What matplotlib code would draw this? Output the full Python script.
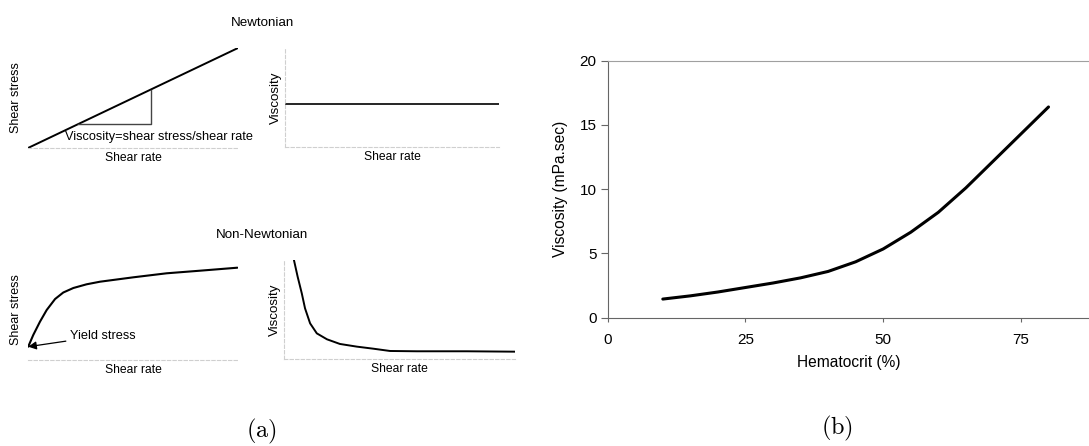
import numpy as np
import matplotlib
matplotlib.use("Agg")
import matplotlib.pyplot as plt

plt.rcParams['font.family'] = ['Liberation Sans', 'DejaVu Sans']
plt.rcParams['mathtext.fontset'] = 'cm'

# ---- data -------------------------------------------------------------
# Newtonian: shear stress proportional to shear rate
newt_rate = [0, 10]
newt_stress = [0, 10]
slope_span = [2.4, 5.85]          # run of the slope triangle (shear rate)
newt_visc = [4.3, 4.3]            # constant viscosity

# Non-Newtonian (yield stress, shear thinning)
nn_rate = [0.01, 0.25, 0.57, 0.89, 1.29, 1.68, 2.16, 2.79, 3.43, 5.02,
           6.6, 8.19, 9.97]
nn_stress = [1.33, 2.5, 3.83, 5.0, 6.1, 6.75, 7.2, 7.57, 7.83, 8.27,
             8.67, 8.93, 9.23]
nn_visc_rate = [0.43, 0.59, 0.77, 0.91, 1.13, 1.42, 1.86, 2.42, 3.15,
                3.87, 4.59, 5.75, 7.91, 10.0]
nn_visc = [10.0, 8.32, 6.63, 5.12, 3.6, 2.59, 1.99, 1.52, 1.25,
           1.04, 0.81, 0.78, 0.78, 0.74]

# Blood viscosity vs hematocrit
hematocrit = [10, 15, 20, 25, 30, 35, 40, 45, 50, 55, 60, 65, 70, 75, 80]
blood_visc = [1.45, 1.7, 2.0, 2.35, 2.7, 3.1, 3.6, 4.35, 5.35, 6.65,
              8.2, 10.1, 12.2, 14.3, 16.4]
x_ticks = [0, 25, 50, 75]
y_ticks = [0, 5, 10, 15, 20]

# ---- figure -----------------------------------------------------------
W, H = 1089, 446
fig = plt.figure(figsize=(W / 100, H / 100), dpi=100)


def box(left, top, right, bottom):
    return [left / W, 1 - bottom / H, (right - left) / W, (bottom - top) / H]


def sketch_axes(rect, show_left=True):
    ax = fig.add_axes(rect)
    ax.set_xlim(0, 10)
    ax.set_ylim(0, 10)
    ax.set_xticks([])
    ax.set_yticks([])
    for s in ('top', 'right'):
        ax.spines[s].set_visible(False)
    for s in ('left', 'bottom'):
        ax.spines[s].set_color('#cfcfcf')
        ax.spines[s].set_linewidth(0.8)
        ax.spines[s].set_linestyle((0, (3, 2)))
    ax.spines['left'].set_visible(show_left)
    return ax


line_kw = dict(color='black', solid_joinstyle='round', solid_capstyle='round')

# Newtonian: stress vs rate
ax1 = sketch_axes(box(28, 48, 238, 148), show_left=False)
ax1.plot(newt_rate, newt_stress, lw=1.4, **line_kw)
tri_y = np.interp(slope_span, newt_rate, newt_stress)
ax1.plot([slope_span[0], slope_span[1], slope_span[1]],
         [tri_y[0], tri_y[0], tri_y[1]], color='#444444', lw=1.0)
ax1.text(1.75, 1.1, 'Viscosity=shear stress/shear rate', fontsize=9.2,
         ha='left', va='center')
ax1.set_ylabel('Shear stress', fontsize=9, labelpad=4)
ax1.set_xlabel('Shear rate', fontsize=8.7, labelpad=3)

# Newtonian: viscosity vs rate
ax2 = sketch_axes(box(285, 48, 499, 147))
ax2.plot([0, 10], newt_visc, lw=1.2, **line_kw)
ax2.set_ylabel('Viscosity', fontsize=9.6, labelpad=2)
ax2.set_xlabel('Shear rate', fontsize=8.7, labelpad=3)

# Non-Newtonian: stress vs rate
ax3 = sketch_axes(box(28, 260, 238, 360), show_left=False)
ax3.plot(nn_rate, nn_stress, lw=1.5, **line_kw)
ax3.annotate('Yield stress', xy=(nn_rate[0], nn_stress[0]),
             xytext=(2.0, 2.43), fontsize=9.2, ha='left', va='center',
             arrowprops=dict(arrowstyle='-|>', color='black', lw=0.9,
                             mutation_scale=12, shrinkA=1, shrinkB=0))
ax3.set_ylabel('Shear stress', fontsize=9, labelpad=4)
ax3.set_xlabel('Shear rate', fontsize=8.7, labelpad=3)

# Non-Newtonian: viscosity vs rate
ax4 = sketch_axes(box(284, 260, 515, 359))
ax4.plot(nn_visc_rate, nn_visc, lw=1.4, **line_kw)
ax4.set_ylabel('Viscosity', fontsize=9.6, labelpad=2)
ax4.set_xlabel('Shear rate', fontsize=8.7, labelpad=3)

fig.text(262 / W, 1 - 23 / H, 'Newtonian', fontsize=9.6, ha='center', va='center')
fig.text(262 / W, 1 - 235 / H, 'Non-Newtonian', fontsize=9.6, ha='center', va='center')

# Blood viscosity panel
x_max = (W - 607.7) / 5.51
axb = fig.add_axes(box(607.7, 60.7, 607.7 + x_max * 5.51, 317.7))
axb.plot(hematocrit, blood_visc, lw=2.2, **line_kw)
axb.set_xlim(0, x_max)
axb.set_ylim(0, 20)
axb.set_xticks(x_ticks)
axb.set_yticks(y_ticks)
axb.spines['right'].set_visible(False)
axb.spines['top'].set_color('#a0a0a0')
axb.spines['top'].set_linewidth(0.8)
for s in ('left', 'bottom'):
    axb.spines[s].set_color('#666666')
    axb.spines[s].set_linewidth(0.8)
axb.tick_params(axis='y', length=5, width=0.8, color='#666666', pad=3,
                labelsize=11)
axb.tick_params(axis='x', length=3, width=0.8, color='#666666', pad=8,
                labelsize=11)
axb.set_xlabel('Hematocrit (%)', fontsize=11.2, labelpad=6)
axb.set_ylabel('Viscosity (mPa.sec)', fontsize=11.2, labelpad=8)

# Sub-figure captions
fig.text(261 / W, 1 - 431 / H, r'$\mathrm{(a)}$', fontsize=17.5, ha='center', va='center')
fig.text(837 / W, 1 - 428 / H, r'$\mathrm{(b)}$', fontsize=17.5, ha='center', va='center')

fig.savefig('out.png', dpi=100)
